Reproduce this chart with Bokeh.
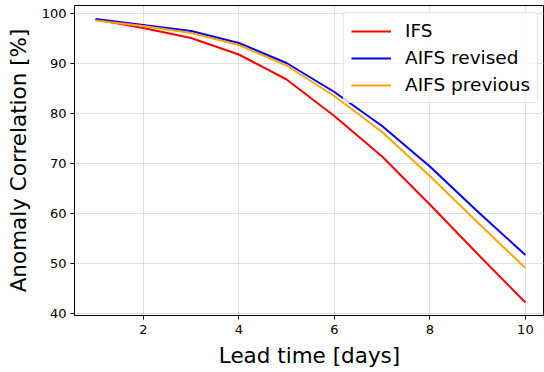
from bokeh.plotting import figure
from bokeh.models import Range1d, Legend, LegendItem, FixedTicker
from bokeh.embed import file_html
from bokeh.resources import INLINE

days = [1, 2, 3, 4, 5, 6, 7, 8, 9, 10]
ifs = [98.8, 97.1, 95.1, 91.8, 86.8, 79.5, 71.4, 61.8, 51.9, 42.2]
aifs_revised = [98.9, 97.7, 96.5, 94.1, 90.1, 84.3, 77.5, 69.4, 60.4, 51.7]
aifs_previous = [98.6, 97.5, 96.1, 93.7, 89.6, 83.5, 76.3, 67.5, 58.2, 49.1]
x_ticks = [2, 4, 6, 8, 10]
y_ticks = [40, 50, 60, 70, 80, 90, 100]

FONT = "DejaVu Sans"

p = figure(width=544, height=372, output_backend="svg", toolbar_location=None,
           x_range=Range1d(0.56, 10.40), y_range=Range1d(39.6, 101.6),
           min_border_left=74, min_border_right=0, min_border_top=5, min_border_bottom=57)

r1 = p.line(days, ifs, line_color="red", line_width=2)
r2 = p.line(days, aifs_revised, line_color="blue", line_width=2)
r3 = p.line(days, aifs_previous, line_color="orange", line_width=2)

p.outline_line_color = "black"
p.outline_line_width = 1
p.background_fill_color = "white"
p.border_fill_color = "white"

for ax in (p.xaxis[0], p.yaxis[0]):
    ax.major_label_text_font = FONT
    ax.major_label_text_font_size = "13px"
    ax.major_label_text_color = "black"
    ax.axis_label_text_font = FONT
    ax.axis_label_text_font_size = "21.5px"
    ax.axis_label_text_font_style = "normal"
    ax.axis_label_text_color = "black"
    ax.axis_line_color = "black"
    ax.major_tick_line_color = "black"
    ax.major_tick_out = 4
    ax.major_tick_in = 0
    ax.minor_tick_line_color = None

p.xaxis.ticker = FixedTicker(ticks=x_ticks)
p.yaxis.ticker = FixedTicker(ticks=y_ticks)
p.xaxis.axis_label = "Lead time [days]"
p.yaxis.axis_label = "Anomaly Correlation [%]"
p.xaxis.major_label_standoff = 5
p.yaxis.major_label_standoff = 4
p.xaxis.axis_label_standoff = 6
p.yaxis.axis_label_standoff = 8

p.grid.grid_line_color = "#b0b0b0"
p.grid.grid_line_dash = "1 1"
p.grid.grid_line_width = 0.8

legend = Legend(items=[LegendItem(label="IFS", renderers=[r1]),
                       LegendItem(label="AIFS revised", renderers=[r2]),
                       LegendItem(label="AIFS previous", renderers=[r3])],
                location=(269, 212))
legend.label_text_font = FONT
legend.label_text_font_size = "18.5px"
legend.label_text_color = "black"
legend.glyph_width = 40
legend.glyph_height = 20
legend.label_standoff = 14
legend.spacing = 6
legend.padding = 7
legend.margin = 0
legend.border_line_color = "#cccccc"
legend.border_line_width = 1
legend.border_radius = 4
legend.background_fill_color = "white"
legend.background_fill_alpha = 0.8
p.add_layout(legend, "center")

open("out.html", "w").write(file_html(p, INLINE))
